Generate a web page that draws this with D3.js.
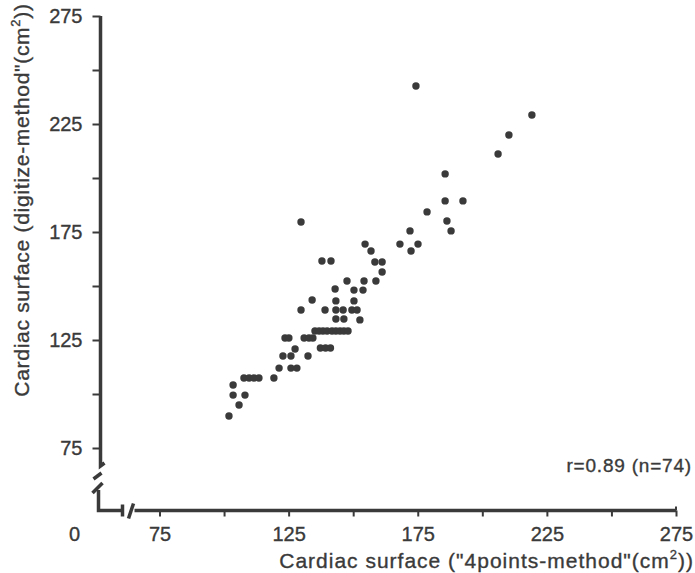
<!DOCTYPE html>
<html>
<head>
<meta charset="utf-8">
<script src="https://cdn.jsdelivr.net/npm/d3@7"></script>
<style>
  html, body { margin: 0; padding: 0; background: #fff; }
  svg text { font-family: "Liberation Sans", Arial, sans-serif; fill: #3a3a3a; stroke: #3a3a3a; stroke-width: 0.35px; }
</style>
</head>
<body>
<svg id="chart" width="695" height="573"></svg>
<script>
// ---- data ----
const fourPoints = [
  174.3, 219.2, 210.3, 206.1, 185.6, 185.6, 192.5, 178.6, 186.3, 187.9,
  172.0, 168.1, 175.1, 172.4, 129.8, 154.6, 156.9, 137.9, 141.4, 158.4,
  161.2, 161.2, 147.6, 154.2, 158.8, 143.0, 150.3, 153.8, 134.1, 143.3,
  150.3, 129.8, 139.1, 143.3, 146.1, 149.5, 151.5, 143.3, 146.4, 152.6,
  135.2, 136.8, 138.3, 139.9, 141.8, 143.3, 144.9, 146.4, 148.0,
  123.6, 125.1, 131.0, 132.9, 134.4, 127.5, 137.3, 139.3, 141.2,
  122.8, 125.9, 132.5, 121.3, 125.9, 128.2,
  107.7, 109.7, 111.6, 113.5, 119.3, 103.5, 103.5, 108.1, 105.8, 101.9
];
const digitize = [
  242.6, 229.2, 219.9, 211.1, 201.9, 189.4, 189.4, 184.3, 180.1, 175.5,
  175.5, 169.4, 169.4, 166.2, 179.6, 169.4, 166.2, 161.6, 161.6, 161.1,
  161.1, 156.5, 152.3, 152.3, 152.3, 148.6, 148.1, 148.1, 143.5, 143.1,
  143.1, 138.9, 138.9, 138.9, 138.9, 138.9, 138.9, 134.7, 134.7, 134.3,
  129.2, 129.2, 129.2, 129.2, 129.2, 129.2, 129.2, 129.2, 129.2,
  125.9, 125.9, 125.9, 125.9, 125.9, 120.8, 121.3, 121.3, 121.3,
  117.6, 117.6, 117.6, 112.0, 112.0, 112.0,
  107.4, 107.4, 107.4, 107.4, 107.4, 104.2, 99.5, 99.5, 94.9, 89.8
];
const xTicks = [75, 100, 125, 150, 175, 200, 225, 250, 275];
const yTicks = [75, 100, 125, 150, 175, 200, 225, 250, 275];
const labeledTicks = [75, 125, 175, 225, 275];
const originLabel = "0";
const xTitle = ["Cardiac surface (\"4points-method\"(cm", "2", "))"];
const yTitle = ["Cardiac surface (digitize-method\"(cm", "2", "))"];
const annotation = "r=0.89 (n=74)";

// ---- drawing ----
const ink = "#3a3a3a";
const svg = d3.select("#chart");
const x = d3.scaleLinear().domain([75, 275]).range([159.5, 676]);
const y = d3.scaleLinear().domain([75, 275]).range([448, 16]);
const axisX = 510.5, axisY = 100.5;

// y axis
const yAxis = d3.axisLeft(y).tickValues(yTicks).tickSize(8).tickPadding(10)
  .tickFormat(d => labeledTicks.includes(d) ? d : "");
const gy = svg.append("g").attr("transform", `translate(${axisY},0)`).call(yAxis);
gy.select(".domain").remove();
gy.selectAll(".tick line").attr("stroke", ink).attr("stroke-width", 2);
gy.selectAll(".tick text").attr("font-size", 20).attr("fill", ink)
  .style("font-family", "'Liberation Sans', Arial, sans-serif");

// x axis
const xAxis = d3.axisBottom(x).tickValues(xTicks).tickSize(6).tickPadding(10)
  .tickFormat(d => labeledTicks.includes(d) ? d : "");
const gx = svg.append("g").attr("transform", `translate(0,${axisX})`).call(xAxis);
gx.select(".domain").remove();
gx.selectAll(".tick line").attr("stroke", ink).attr("stroke-width", 2);
gx.selectAll(".tick text").attr("font-size", 20).attr("fill", ink)
  .style("font-family", "'Liberation Sans', Arial, sans-serif");

// axis lines with breaks
const lines = svg.append("g").attr("stroke", ink).attr("stroke-width", 3.5)
  .attr("fill", "none").attr("stroke-linecap", "butt");
lines.append("path").attr("d", `M${axisY},${y(275)} V${y(75) + 18} l4,-3`);
lines.append("path").attr("d", `M${axisY - 7},${y(75) + 31} l8,-6`);
lines.append("path").attr("d", `M${axisY - 8},${y(75) + 45} l10,-10`);
lines.append("path").attr("d", `M${axisY - 2},${y(75) + 42} V${axisX} H${axisY + 22}`);
lines.append("path").attr("d", `M${axisY + 22},${axisX - 6} v12`);
lines.append("path").attr("d", `M${axisY + 28},${axisX + 8} l5,-15`);
lines.append("path").attr("d", `M${x(75) - 25},${axisX} H${x(275)}`);
lines.append("path").attr("stroke-width", 2).attr("d", `M${x(275)},${axisX - 4} v4`);

// origin "0"
svg.append("text").attr("x", 74.5).attr("y", axisX + 16).attr("dy", "0.71em")
  .attr("text-anchor", "middle").attr("font-size", 20).text(originLabel);

// points
svg.append("g").selectAll("circle").data(fourPoints.map((v, i) => [v, digitize[i]]))
  .join("circle")
  .attr("cx", d => x(d[0])).attr("cy", d => y(d[1]))
  .attr("r", 3.7).attr("fill", ink);

// titles
const xt = svg.append("text").attr("x", 694).attr("y", 568)
  .attr("text-anchor", "end").attr("font-size", 21).attr("letter-spacing", 1.0);
xt.append("tspan").text(xTitle[0]);
xt.append("tspan").attr("font-size", 13).attr("dy", -9).text(xTitle[1]);
xt.append("tspan").attr("dy", 9).text(xTitle[2]);

const yt = svg.append("text").attr("transform", "translate(29,200) rotate(-90)")
  .attr("text-anchor", "middle").attr("font-size", 21).attr("letter-spacing", 0.7);
yt.append("tspan").text(yTitle[0]);
yt.append("tspan").attr("font-size", 13).attr("dy", -9).text(yTitle[1]);
yt.append("tspan").attr("dy", 9).text(yTitle[2]);

svg.append("text").attr("x", 692).attr("y", 472).attr("text-anchor", "end")
  .attr("font-size", 19).attr("letter-spacing", 0.8).text(annotation);
</script>
</body>
</html>
